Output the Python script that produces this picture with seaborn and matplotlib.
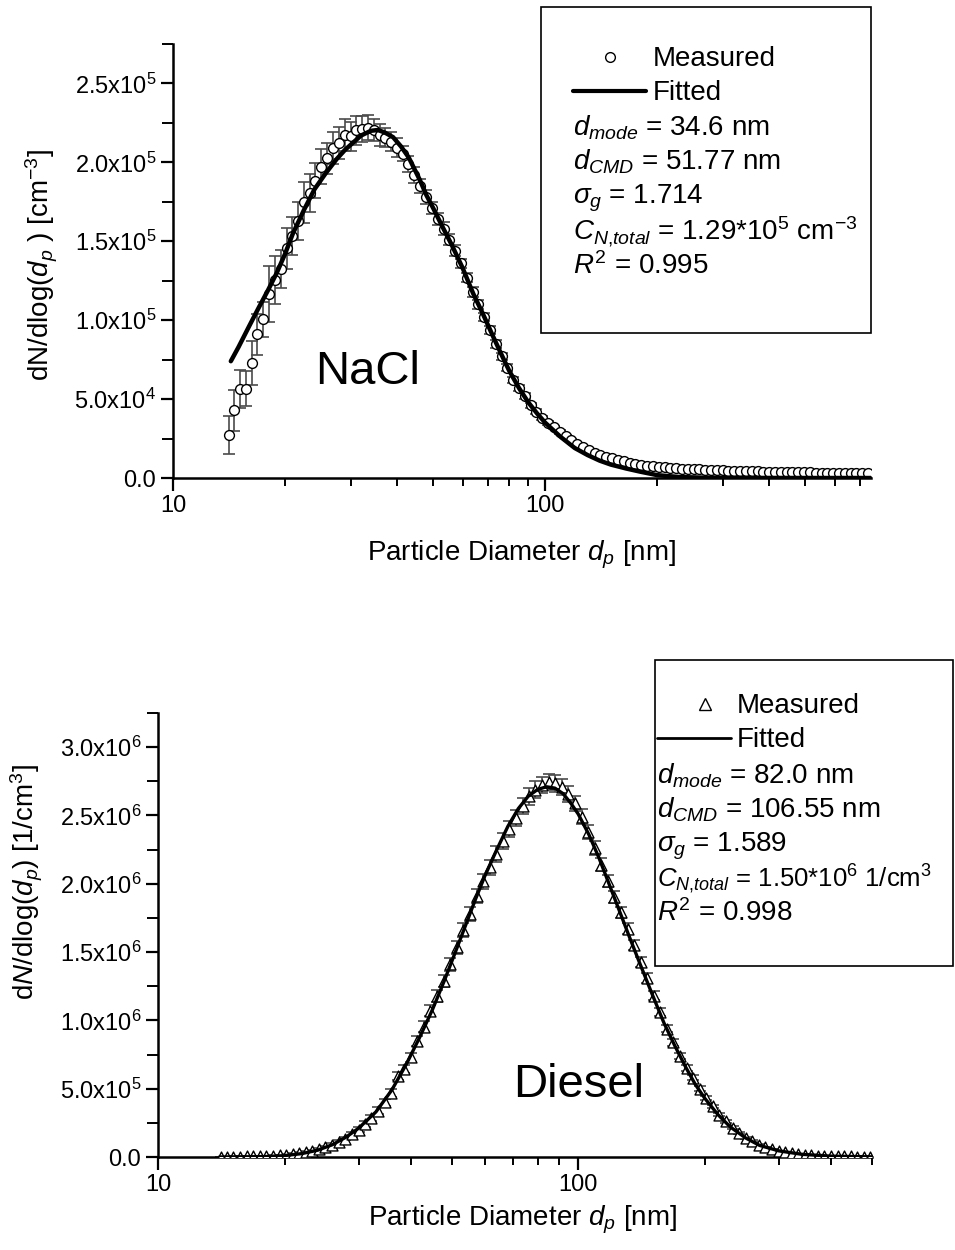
import numpy as np
import matplotlib
matplotlib.use("Agg")
import matplotlib.pyplot as plt
import matplotlib.ticker as tkr
from matplotlib.patches import Rectangle
from matplotlib.lines import Line2D
import pandas as pd
import seaborn as sns

sns.set_style("ticks")
plt.rcParams['font.family'] = ['Liberation Sans', 'DejaVu Sans']
plt.rcParams['mathtext.fontset'] = 'custom'
plt.rcParams['mathtext.rm'] = 'Liberation Sans'
plt.rcParams['mathtext.it'] = 'Liberation Sans:italic'
plt.rcParams['mathtext.bf'] = 'Liberation Sans:bold'
plt.rcParams['text.color'] = 'black'
plt.rcParams['axes.labelcolor'] = 'black'

# SMPS channel mid-point diameters [nm]
channels = [14.1, 14.6, 15.1, 15.7, 16.3, 16.8, 17.5, 18.1, 18.8, 19.5,
            20.2, 20.9, 21.7, 22.5, 23.3, 24.1, 25.0, 25.9, 26.9, 27.9,
            28.9, 30.0, 31.1, 32.2, 33.4, 34.6, 35.9, 37.2, 38.5, 40.0,
            41.4, 42.9, 44.5, 46.1, 47.8, 49.6, 51.4, 53.3, 55.2, 57.3,
            59.4, 61.5, 63.8, 66.1, 68.5, 71.0, 73.7, 76.4, 79.1, 82.0,
            85.1, 88.2, 91.4, 94.7, 98.2, 101.8, 105.5, 109.4, 113.4, 117.6,
            121.9, 126.3, 131.0, 135.8, 140.7, 145.9, 151.2, 156.8, 162.5, 168.5,
            174.7, 181.1, 187.7, 194.6, 201.7, 209.1, 216.7, 224.7, 232.9, 241.4,
            250.3, 259.5, 269.0, 278.8, 289.0, 299.6, 310.6, 322.0, 333.8, 346.0,
            358.7, 371.8, 385.4, 399.5, 414.2, 429.4, 445.1, 461.4, 478.3, 495.8,
            514.0, 532.8, 552.3, 572.5, 593.5, 615.3, 637.8, 661.2, 685.4, 710.5,
            736.5]

# NaCl measured dN/dlog(dp) [x1e5 cm-3] and error
nacl_meas = [0.27, 0.43, 0.565, 0.565, 0.73, 0.91, 1.005, 1.166, 1.254, 1.327,
             1.457, 1.533, 1.631, 1.746, 1.805, 1.884, 1.972, 2.025, 2.092, 2.123,
             2.175, 2.165, 2.203, 2.211, 2.219, 2.203, 2.175, 2.155, 2.131, 2.092,
             2.056, 1.99, 1.92, 1.85, 1.78, 1.71, 1.64, 1.58, 1.51, 1.44,
             1.36, 1.27, 1.18, 1.10, 1.02, 0.94, 0.85, 0.77, 0.70, 0.62,
             0.57, 0.52, 0.46, 0.42, 0.38, 0.35, 0.32, 0.29, 0.265, 0.24,
             0.215, 0.195, 0.176, 0.16, 0.148, 0.135, 0.124, 0.115, 0.106, 0.097,
             0.09, 0.084, 0.079, 0.074, 0.07, 0.067, 0.064, 0.061, 0.059, 0.057,
             0.055, 0.054, 0.053, 0.051, 0.05, 0.049, 0.047, 0.046, 0.045, 0.044,
             0.043, 0.042, 0.041, 0.04, 0.039, 0.038, 0.037, 0.037, 0.036, 0.035,
             0.035, 0.034, 0.034, 0.033, 0.033, 0.032, 0.032, 0.031, 0.031, 0.031,
             0.03]
nacl_err = [0.12, 0.13, 0.12, 0.11, 0.14, 0.13, 0.11, 0.18, 0.15, 0.12,
            0.13, 0.12, 0.12, 0.13, 0.12, 0.11, 0.11, 0.10, 0.10, 0.10,
            0.10, 0.09, 0.09, 0.08, 0.08, 0.07, 0.07, 0.06, 0.06, 0.06,
            0.05, 0.05, 0.05, 0.045, 0.045, 0.04, 0.04, 0.04, 0.035, 0.035,
            0.03, 0.03, 0.03, 0.03, 0.025, 0.025, 0.025, 0.02, 0.02, 0.02,
            0.02, 0.018, 0.016, 0.015, 0.014, 0.013, 0.012, 0.011, 0.01, 0.01,
            0.009, 0.008, 0.008, 0.007, 0.007, 0.006, 0.006, 0.006, 0.005, 0.005,
            0.005, 0.005, 0.005, 0.005, 0.005, 0.005, 0.005, 0.005, 0.005, 0.005,
            0.004, 0.004, 0.004, 0.004, 0.004, 0.004, 0.004, 0.004, 0.004, 0.004,
            0.003, 0.003, 0.003, 0.003, 0.003, 0.003, 0.003, 0.003, 0.003, 0.003,
            0.003, 0.003, 0.003, 0.003, 0.003, 0.003, 0.003, 0.003, 0.003, 0.003,
            0.003]
nacl_fit_d = [14.3, 15, 16, 17, 18, 19, 20, 21, 22.5, 24, 25.7, 27.5, 29, 30.3, 32, 34,
              35.5, 37, 39, 41, 43, 46, 48, 50, 53, 56, 60, 64, 68, 72, 76, 80, 85,
              90, 95, 100, 110, 120, 130, 140, 150, 165, 180, 200, 230, 270, 350, 500, 750]
nacl_fit = [0.74, 0.83, 0.96, 1.08, 1.19, 1.30, 1.42, 1.55, 1.70, 1.83, 1.93, 2.02, 2.08,
            2.12, 2.17, 2.20, 2.205, 2.19, 2.16, 2.10, 2.03, 1.89, 1.79, 1.71, 1.59, 1.48,
            1.33, 1.17, 1.04, 0.91, 0.79, 0.68, 0.57, 0.48, 0.41, 0.35, 0.26, 0.19, 0.145,
            0.11, 0.085, 0.06, 0.04, 0.018, 0.006, 0.002, 0.0005, 0.0, 0.0]

# Diesel measured dN/dlog(dp) [x1e6 1/cm3] and error
diesel_meas = [0.002, 0.002, 0.003, 0.003, 0.004, 0.005, 0.006, 0.008, 0.010, 0.013,
               0.017, 0.022, 0.028, 0.036, 0.046, 0.058, 0.073, 0.09, 0.11, 0.135,
               0.165, 0.20, 0.24, 0.285, 0.34, 0.40, 0.47, 0.59, 0.645, 0.73,
               0.85, 0.955, 1.07, 1.18, 1.29, 1.41, 1.535, 1.66, 1.78, 1.91,
               2.02, 2.12, 2.22, 2.31, 2.40, 2.48, 2.57, 2.64, 2.69, 2.725,
               2.743, 2.735, 2.71, 2.66, 2.59, 2.49, 2.38, 2.26, 2.14, 2.02,
               1.90, 1.79, 1.67, 1.55, 1.43, 1.31, 1.18, 1.06, 0.94, 0.84,
               0.74, 0.65, 0.58, 0.50, 0.43, 0.37, 0.31, 0.26, 0.215, 0.175,
               0.14, 0.115, 0.09, 0.07, 0.055, 0.043, 0.033, 0.026, 0.02, 0.015,
               0.012, 0.009, 0.007, 0.006, 0.005, 0.004, 0.004, 0.003, 0.003, 0.003]
diesel_err = [0.001, 0.001, 0.001, 0.001, 0.001, 0.002, 0.002, 0.002, 0.002, 0.002,
              0.003, 0.004, 0.005, 0.006, 0.007, 0.008, 0.009, 0.01, 0.012, 0.014,
              0.016, 0.018, 0.02, 0.022, 0.024, 0.026, 0.028, 0.03, 0.032, 0.034,
              0.036, 0.038, 0.04, 0.042, 0.044, 0.046, 0.048, 0.05, 0.052, 0.054,
              0.055, 0.056, 0.057, 0.058, 0.059, 0.06, 0.06, 0.06, 0.06, 0.06,
              0.06, 0.06, 0.06, 0.058, 0.056, 0.054, 0.052, 0.05, 0.048, 0.046,
              0.044, 0.042, 0.04, 0.038, 0.036, 0.034, 0.032, 0.03, 0.028, 0.026,
              0.024, 0.022, 0.02, 0.018, 0.016, 0.014, 0.012, 0.011, 0.01, 0.009,
              0.008, 0.007, 0.006, 0.005, 0.004, 0.004, 0.003, 0.003, 0.002, 0.002,
              0.002, 0.002, 0.002, 0.002, 0.002, 0.002, 0.002, 0.002, 0.002, 0.002]
diesel_fit_d = [14, 18, 20, 22, 24, 26, 28, 30, 33, 36, 39, 42, 45, 48, 51, 54, 57, 60, 64,
                68, 72, 76, 80, 84, 88, 92, 96, 100, 106, 112, 118, 125, 132, 140, 150,
                160, 170, 180, 190, 200, 215, 230, 250, 270, 300, 340, 400, 500]
diesel_fit = [0.0, 0.003, 0.01, 0.025, 0.05, 0.09, 0.145, 0.21, 0.33, 0.49, 0.68, 0.88,
              1.08, 1.29, 1.50, 1.70, 1.89, 2.06, 2.25, 2.42, 2.55, 2.64, 2.69, 2.71, 2.70,
              2.66, 2.59, 2.51, 2.36, 2.19, 2.01, 1.81, 1.62, 1.42, 1.19, 0.98, 0.81, 0.66,
              0.53, 0.43, 0.31, 0.22, 0.14, 0.085, 0.045, 0.02, 0.006, 0.001]

W, H = 955, 1250


def fx(px):
    return px / W


def fy(py):
    return 1 - py / H


def sci_label(v, p):
    if abs(v) < 1e-9:
        return "0.0"
    if v < 0:
        return ""
    e = int(np.floor(np.log10(v) + 1e-9))
    m = v / 10 ** e
    return "{:.1f}x10$^{{{}}}$".format(m, e)


def style_axis(ax, xmax, ymax, ystep):
    ax.set_xscale('log')
    ax.set_xlim(10, xmax)
    ax.set_ylim(0, ymax)
    ax.xaxis.set_major_locator(tkr.LogLocator(base=10, numticks=5))
    ax.xaxis.set_minor_locator(tkr.LogLocator(base=10, subs=np.arange(2, 10), numticks=20))
    ax.xaxis.set_minor_formatter(tkr.NullFormatter())
    ax.xaxis.set_major_formatter(tkr.FuncFormatter(lambda v, p: "{:g}".format(v)))
    ax.yaxis.set_major_locator(tkr.MultipleLocator(ystep))
    ax.yaxis.set_minor_locator(tkr.MultipleLocator(ystep / 2))
    ax.yaxis.set_major_formatter(tkr.FuncFormatter(sci_label))
    sns.despine(ax=ax)
    for s in ['left', 'bottom']:
        ax.spines[s].set_linewidth(1.8)
        ax.spines[s].set_color('black')
    ax.tick_params(axis='both', which='major', direction='out', length=9, width=1.6,
                   labelsize=17, pad=3, color='black', labelcolor='black')
    ax.tick_params(axis='x', which='minor', direction='out', length=6, width=1.4,
                   color='black')
    ax.tick_params(axis='y', which='minor', direction='out', length=8, width=1.4,
                   color='black')
    ax.grid(False)


def draw_panel(ax, d, meas, err, fit_d, fit, scale, marker, msize, fit_lw):
    df = pd.DataFrame({'d': d, 'v': np.array(meas) * scale})
    ax.errorbar(df['d'], df['v'], yerr=np.array(err) * scale, fmt='none',
                ecolor='#4a4a4a', elinewidth=1.2, capsize=4, capthick=1.2, zorder=2)
    sns.scatterplot(data=df, x='d', y='v', ax=ax, marker=marker, s=msize,
                    facecolor='white', edgecolor='black', linewidth=1.0, zorder=3,
                    legend=False)
    fdf = pd.DataFrame({'d': fit_d, 'v': np.array(fit) * scale})
    sns.lineplot(data=fdf, x='d', y='v', ax=ax, color='black', lw=fit_lw,
                 estimator=None, sort=False, zorder=4)


fig = plt.figure(figsize=(W / 100, H / 100), dpi=100)

# ---- NaCl panel ----
ax1 = fig.add_axes([fx(173), fy(478), fx(871) - fx(173), (478 - 44) / H])
draw_panel(ax1, channels, nacl_meas, nacl_err, nacl_fit_d, nacl_fit, 1e5, 'o', 50, 3.2)
style_axis(ax1, 750, 2.75e5, 0.5e5)
ax1.set_xlabel(r'Particle Diameter $d_p$ [nm]', fontsize=20)
ax1.set_ylabel(r'dN/dlog($d_p$ ) [cm$^{-3}$]', fontsize=20)
ax1.xaxis.set_label_coords(0.5, -0.14)
ax1.yaxis.set_label_coords(-0.162, 0.49)
ax1.text(33.4, 0.67e5, 'NaCl', fontsize=34, ha='center', va='center')

# ---- Diesel panel ----
ax2 = fig.add_axes([fx(158), fy(1157), fx(872) - fx(158), (1157 - 713) / H])
draw_panel(ax2, channels[:100], diesel_meas, diesel_err, diesel_fit_d, diesel_fit, 1e6,
           '^', 62, 2.4)
style_axis(ax2, 500, 3.25e6, 0.5e6)
ax2.set_xlabel(r'Particle Diameter $d_p$ [nm]', fontsize=20)
ax2.set_ylabel(r'd$N$/dlog($d_p$) [1/cm$^{3}$]', fontsize=20)
ax2.xaxis.set_label_coords(0.51, -0.105)
ax2.yaxis.set_label_coords(-0.158, 0.62)
ax2.text(100, 0.53e6, 'Diesel', fontsize=34, ha='center', va='center')

# ---- legend / annotation boxes ----
fig.add_artist(Rectangle((fx(541), fy(333)), fx(871) - fx(541), (333 - 7) / H,
                         transform=fig.transFigure, fill=False, lw=1.2, ec='black'))
fig.add_artist(Line2D([fx(610)], [fy(57)], marker='o', ms=7, mfc='white', mec='black',
                      mew=1.0, transform=fig.transFigure))
fig.add_artist(Line2D([fx(573), fx(646)], [fy(91), fy(91)], lw=3, color='black',
                      transform=fig.transFigure))
nacl_lines = [(653, 66, 'Measured'), (653, 100, 'Fitted'),
              (573, 136, r'$d_{mode}$ = 34.6 nm'), (573, 170, r'$d_{CMD}$ = 51.77 nm'),
              (573, 204, r'$\sigma_{g}$ = 1.714'),
              (573, 240, r'$C_{N{,}total}$ = 1.29*10$^{5}$ cm$^{-3}$'),
              (573, 274, r'$R^{2}$ = 0.995')]
for x, y, s in nacl_lines:
    fig.text(fx(x), fy(y), s, fontsize=20, ha='left', va='baseline')

fig.add_artist(Rectangle((fx(655), fy(966)), fx(953) - fx(655), (966 - 660) / H,
                         transform=fig.transFigure, fill=False, lw=1.2, ec='black'))
fig.add_artist(Line2D([fx(705)], [fy(704)], marker='^', ms=8, mfc='white', mec='black',
                      mew=1.0, transform=fig.transFigure))
fig.add_artist(Line2D([fx(657), fx(731)], [fy(738), fy(738)], lw=2, color='black',
                      transform=fig.transFigure))
diesel_lines = [(737, 713, 'Measured'), (737, 747, 'Fitted'),
                (657, 783, r'$d_{mode}$ = 82.0 nm'), (657, 817, r'$d_{CMD}$ = 106.55 nm'),
                (657, 851, r'$\sigma_{g}$ = 1.589'),
                (657, 887, r'$C_{N{,}total}$ = 1.50*10$^{6}$ 1/cm$^{3}$'),
                (657, 921, r'$R^{2}$ = 0.998')]
for x, y, s in diesel_lines:
    fs = 18.5 if s.startswith(r'$C') else 20
    fig.text(fx(x), fy(y), s, fontsize=fs, ha='left', va='baseline')

fig.savefig('out.png', dpi=100)
